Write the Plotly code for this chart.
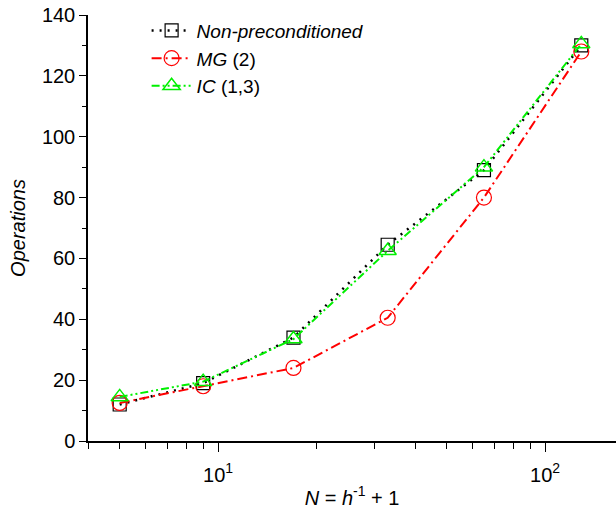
import numpy as np
import plotly.graph_objects as go

# grid size N = 1/h + 1
n_points = [5, 9, 17, 33, 65, 129]

ops_nonprec = [12, 19, 34, 64.5, 89, 130]
ops_mg = [12.5, 18, 24, 40.5, 80, 128]
ops_ic = [14.5, 19.5, 33.5, 62.5, 90, 130.5]

x_major = [10, 100]
x_major_text = ["10<sup>1</sup>", "10<sup>2</sup>"]
x_minor = [4, 5, 6, 7, 8, 9, 20, 30, 40, 50, 60, 70, 80, 90]

FONT = "Liberation Sans, Arial, sans-serif"

fig = go.Figure()
fig.add_trace(go.Scatter(
    x=n_points, y=ops_nonprec, mode="lines+markers",
    name="<i>Non-preconditioned</i>",
    line=dict(color="black", width=2.5, dash="2px,6px"),
    marker=dict(symbol="square-open", size=13, color="black", line=dict(width=1.2)),
))
fig.add_trace(go.Scatter(
    x=n_points, y=ops_mg, mode="lines+markers",
    name="<i>MG</i> (2)",
    line=dict(color="red", width=2, dash="10px,4px,2px,4px"),
    marker=dict(symbol="circle-open", size=15, color="red", line=dict(width=1.2)),
))
fig.add_trace(go.Scatter(
    x=n_points, y=ops_ic, mode="lines+markers",
    name="<i>IC</i> (1,3)",
    line=dict(color="#00f000", width=2, dash="8px,3px,2px,3px,2px,3px"),
    marker=dict(symbol="triangle-up-open", size=15, color="#00f000", line=dict(width=1.5)),
))

fig.update_layout(
    width=616, height=523,
    margin=dict(l=88, r=0, t=15, b=82),
    paper_bgcolor="white", plot_bgcolor="white",
    font=dict(family=FONT, size=20, color="black"),
    legend=dict(
        x=0.111, y=1.008, xanchor="left", yanchor="top",
        bgcolor="rgba(0,0,0,0)", font=dict(size=19),
        tracegroupgap=0, itemwidth=40,
    ),
)

fig.update_xaxes(
    type="log", automargin=False,
    range=[np.log10(4), np.log10(4) + 528 / 327],
    tickvals=x_major, ticktext=x_major_text,
    ticks="outside", ticklen=9, tickwidth=1.3, tickcolor="black",
    ticklabelstandoff=6, ticklabeloverflow="allow",
    minor=dict(tickvals=x_minor, ticks="outside", ticklen=6, tickwidth=1.3, tickcolor="black"),
    showline=True, linecolor="black", linewidth=1.5,
    showgrid=False, zeroline=False,
    tickfont=dict(size=20),
    title=dict(text="<i>N</i> = <i>h</i><sup>-1</sup> + 1", font=dict(size=20), standoff=6),
)
fig.update_yaxes(
    range=[0, 140], dtick=20, automargin=False,
    ticks="outside", ticklen=7, tickwidth=1.3, tickcolor="black",
    ticklabeloverflow="allow",
    minor=dict(dtick=10, ticks="outside", ticklen=4, tickwidth=1.3, tickcolor="black"),
    showline=True, linecolor="black", linewidth=1.5,
    showgrid=False, zeroline=False,
    tickfont=dict(size=20),
    title=dict(text="<i>Operations</i>", font=dict(size=20), standoff=11),
)

# drop the default 8px body margin so the figure fills the window
fig.write_html("out.html", config={"displayModeBar": False},
               post_script="document.body.style.margin='0';")
